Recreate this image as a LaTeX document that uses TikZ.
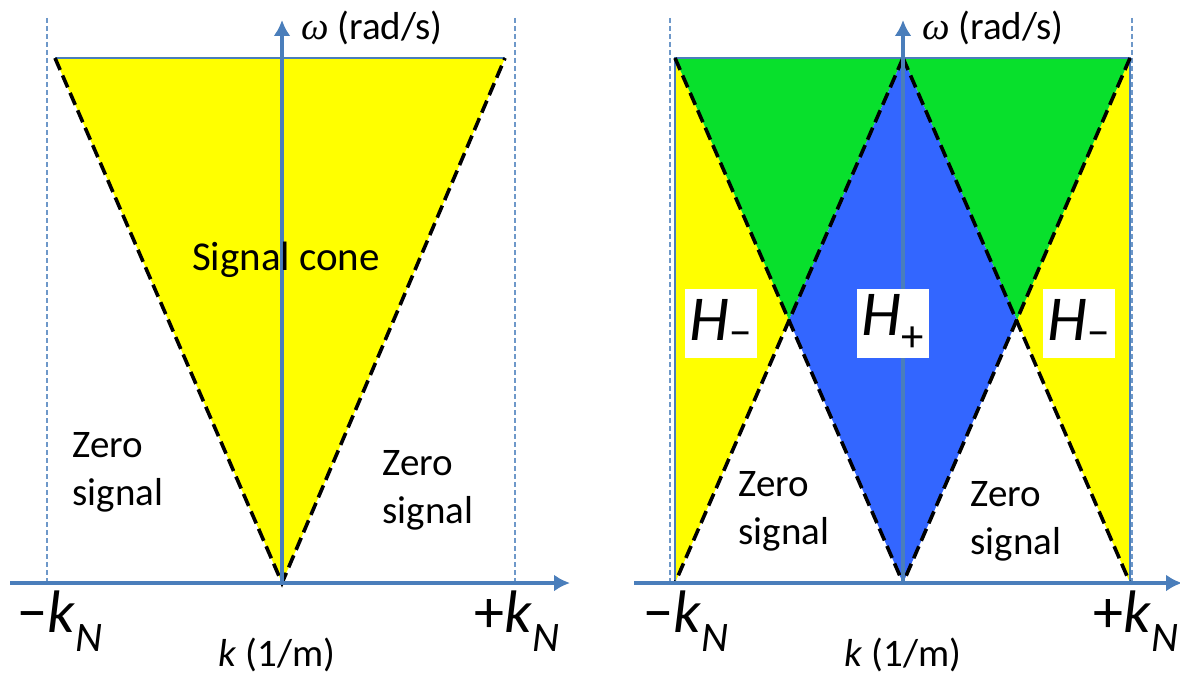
\documentclass[tikz,border=0pt]{standalone}
\usepackage{fontspec}
\setmainfont{Carlito}
\newfontfamily\greekfont{Liberation Serif}
\usetikzlibrary{arrows.meta,calc,positioning}
\definecolor{axisblue}{RGB}{74,126,187}
\definecolor{coneyellow}{RGB}{255,255,0}
\definecolor{conegreen}{RGB}{8,224,44}
\definecolor{coneblue}{RGB}{51,102,255}

\begin{document}
\begin{tikzpicture}[x=1pt,y=-1pt,
  axis/.style={axisblue, line width=3.4pt, -{Latex[length=16pt,width=17pt]}},
  guide/.style={axisblue!80, dash pattern=on 5pt off 3pt, line width=1.2pt},
  rim/.style={axisblue, line width=1.2pt},
  coneedge/.style={black, line width=3.6pt, dash pattern=on 13pt off 6pt},
  zero/.style={font=\fontsize{39}{48}\selectfont, align=left},
  axlbl/.style={font=\fontsize{39}{42}\selectfont, inner sep=0pt},
  knlbl/.style={font=\fontsize{60}{64}\selectfont},
  hbox/.style={fill=white, minimum width=72pt, minimum height=69pt, inner sep=0pt,
    font=\fontsize{64}{68}\selectfont}]
  \useasboundingbox (0,0) rectangle (1180,677);

  % left panel
  \coordinate (ltl) at (55,58);
  \coordinate (ltr) at (505,58);
  \coordinate (lo) at (282,583);
  \draw[guide] (47,18) -- (47,583);
  \draw[guide] (515,18) -- (515,583);
  \fill[coneyellow] (ltl) -- (ltr) -- (lo) -- cycle;
  \draw[rim] (ltl) -- (ltr);
  \draw[coneedge] (ltl) -- (lo) -- (ltr);
  \draw[axis] (lo) -- (282,20);
  \draw[axis] (10,583) -- (570,583);
  \node[axlbl, anchor=west] (lomega) at (301,28) {{\greekfont\itshape ω} (rad/s)};
  \node[font=\fontsize{41}{48}\selectfont] (lcone) at (286,260) {Signal cone};
  \node[zero] (lzero1) at (118,472) {Zero\\signal};
  \node[zero] (lzero2) at (428,490) {Zero\\signal};
  \node[knlbl] (lkmin) at (60,621) {−\textit{k}\textsubscript{\textit{N}}};
  \node[knlbl] (lkmax) at (517,621) {+\textit{k}\textsubscript{\textit{N}}};
  \node[axlbl] (lk) at (277,655) {\textit{k} (1/m)};

  % right panel
  \coordinate (rtl) at (675,58);
  \coordinate (rtm) at (903,58);
  \coordinate (rtr) at (1130,58);
  \coordinate (rbl) at (675,583);
  \coordinate (rbm) at (903,583);
  \coordinate (rbr) at (1130,583);
  \coordinate (rxl) at (789,320);
  \coordinate (rxr) at (1017,320);
  \draw[guide] (670,18) -- (670,583);
  \draw[guide] (1132,18) -- (1132,583);
  \fill[coneyellow] (rtl) -- (rxl) -- (rbl) -- cycle;
  \fill[coneyellow] (rtr) -- (rxr) -- (rbr) -- cycle;
  \fill[conegreen] (rtl) -- (rtm) -- (rxl) -- cycle;
  \fill[conegreen] (rtm) -- (rtr) -- (rxr) -- cycle;
  \fill[coneblue] (rtm) -- (rxr) -- (rbm) -- (rxl) -- cycle;
  \draw[rim] (rbl) -- (rtl) -- (rtr) -- (rbr);
  \draw[coneedge] (rtl) -- (rbm);
  \draw[coneedge] (rtm) -- (rbl);
  \draw[coneedge] (rtm) -- (rbr);
  \draw[coneedge] (rtr) -- (rbm);
  \draw[axis] (rbm) -- (903,20);
  \draw[axis] (634,583) -- (1182,583);
  \node[axlbl, anchor=west] (romega) at (922,28) {{\greekfont\itshape ω} (rad/s)};
  \node[hbox] (hleft) at (721,323) {\textit{H}\textsubscript{−}};
  \node[hbox] (hmid) at (893,323) {\textit{H}\textsubscript{+}};
  \node[hbox] (hright) at (1079,323) {\textit{H}\textsubscript{−}};
  \node[zero] (rzero1) at (784,511) {Zero\\signal};
  \node[zero] (rzero2) at (1016,521) {Zero\\signal};
  \node[knlbl] (rkmin) at (686,621) {−\textit{k}\textsubscript{\textit{N}}};
  \node[knlbl] (rkmax) at (1136,621) {+\textit{k}\textsubscript{\textit{N}}};
  \node[axlbl] (rk) at (903,655) {\textit{k} (1/m)};
\end{tikzpicture}
\end{document}
